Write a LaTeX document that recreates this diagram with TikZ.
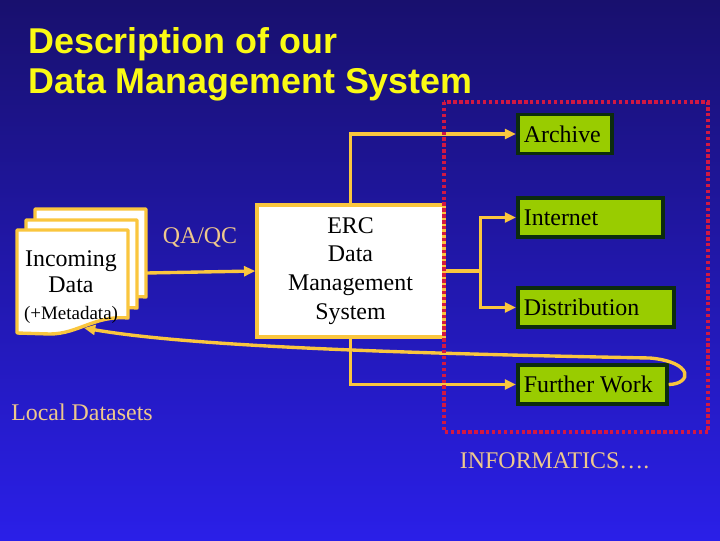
\documentclass[tikz,border=0pt]{standalone}
\usepackage{fontspec}
\setmainfont{Liberation Serif}
\newfontfamily\headfont{Liberation Sans}
\usepackage{tikz}
\usetikzlibrary{arrows.meta,positioning}
\definecolor{slidetop}{RGB}{24,16,110}
\definecolor{slidebot}{RGB}{42,31,232}
\definecolor{gold}{RGB}{250,198,62}
\definecolor{peach}{RGB}{238,200,140}
\definecolor{leaf}{RGB}{153,204,0}
\definecolor{leafrim}{RGB}{12,44,14}
\definecolor{zonered}{RGB}{210,24,66}
\definecolor{headyellow}{RGB}{250,250,20}
% one sheet of the incoming-data stack, shifted by (#1,#2)
\newcommand{\docpage}[2]{%
  \filldraw[pg,shift={(#1,#2)}] (17,230) -- (128,230) -- (128,318)
    .. controls (95,315) and (78,334) .. (50,334) -- (17,333) -- cycle;}

\begin{document}
\begin{tikzpicture}[
  x=0.025cm, y=-0.025cm,
  font=\fontsize{17}{20.5}\selectfont,
  pg/.style={draw=gold,fill=white,line width=2.4pt,line join=round},
  sys/.style={draw=gold,fill=white,line width=2.4pt,minimum width=4.675cm,
              minimum height=3.3cm,align=center,inner sep=0pt},
  gb/.style={draw=leafrim,fill=leaf,line width=2.6pt,anchor=west,text width=#1,
             minimum height=0.975cm,inner xsep=0.15cm,align=flush left},
  lbl/.style={text=peach},
  hd/.style={text=headyellow,font=\headfont\bfseries\fontsize{25.5}{28.3}\selectfont,
             align=left,inner sep=0pt},
  ln/.style={draw=gold,line width=2.4pt},
  ar/.style={ln,-{Triangle[length=8pt,width=7pt]}},
  zone/.style={draw=zonered,line width=2.4pt,dash pattern=on 2.4pt off 1.8pt}
]
\useasboundingbox (0,0) rectangle (720,540);
\shade[top color=slidetop,bottom color=slidebot] (0,0) rectangle (720,540);

\node[hd,anchor=north west] (title) at (28,27) {Description of our\\Data Management System};

% incoming data stack
\docpage{18}{-21}
\docpage{9}{-10}
\docpage{0}{0}
\node[align=center,font=\fontsize{17}{19}\selectfont] (inc) at (71,287)
  {Incoming\\Data\\{\fontsize{13.5}{16}\selectfont(+Metadata)}};
\coordinate (stk) at (146,273);
\coordinate (dock) at (84,328);

\node[sys] (erc) at (350.5,271) {ERC\\Data\\Management\\System};
\node[lbl] (qa) at (200,238) {QA/QC};
\draw[ar] (stk) -- (erc.west);

% outputs
\node[gb=2.05cm] (arch) at (516,134) {Archive};
\node[gb=3.325cm] (inet) at (516,217.5) {Internet};
\node[gb=3.6cm] (dist) at (516,307.5) {Distribution};
\node[gb=3.425cm] (fw) at (516,384.5) {Further Work};

\draw[ar] (erc.north) |- (arch.west);
\coordinate[right=0.875cm of erc.east] (split);
\draw[ln] (erc.east) -- (split);
\draw[ar] (split) |- (inet.west);
\draw[ar] (split) |- (dist.west);
\draw[ar] (erc.south) |- (fw.west);

% feedback to local datasets
\draw[ar] (fw.east) .. controls (692,384) and (694,362) .. (650,358)
  .. controls (440,354) and (200,348) .. (dock);

\node[lbl] (loc) at (82,412) {Local Datasets};
\node[lbl,anchor=west] (inf) at (455,461) {INFORMATICS….};

\draw[zone] (444,102) rectangle (708,432);
\end{tikzpicture}
\end{document}
